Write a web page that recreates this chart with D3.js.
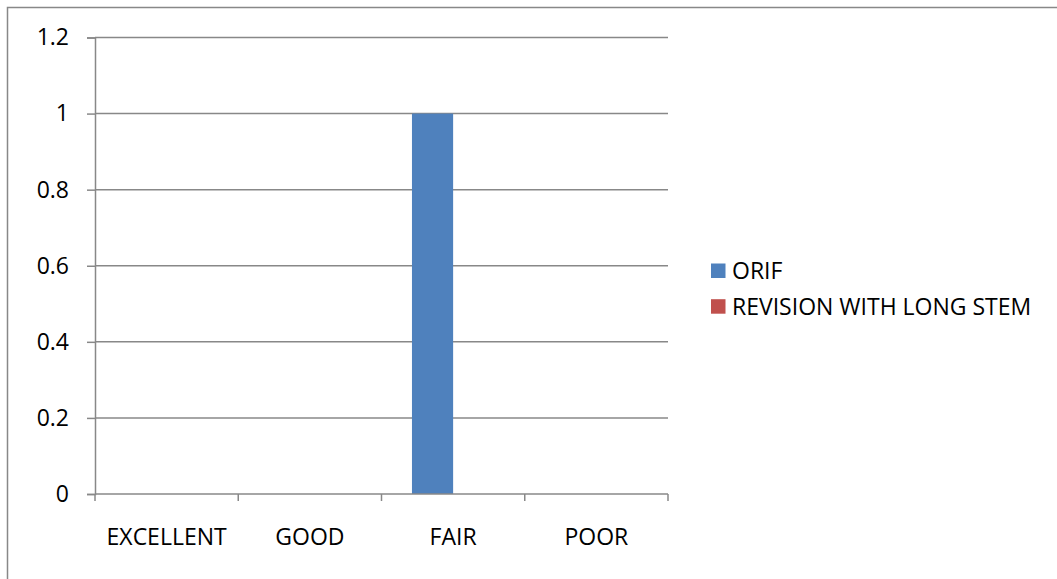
<!DOCTYPE html>
<html>
<head>
<meta charset="utf-8">
<script src="https://cdn.jsdelivr.net/npm/d3@7"></script>
<style>
  html, body { margin: 0; padding: 0; background: #fff; }
  svg text { font-family: "Open Sans", "Liberation Sans", sans-serif; fill: #000; }
</style>
</head>
<body>
<svg id="chart" width="1057" height="579"></svg>
<script>
// Outcome categories and the two treatment series
const categories = ["EXCELLENT", "GOOD", "FAIR", "POOR"];
const seriesNames = ["ORIF", "REVISION WITH LONG STEM"];
const orifValues = [0, 0, 1, 0];
const revisionValues = [0, 0, 0, 0];
const yTicks = [0, 0.2, 0.4, 0.6, 0.8, 1, 1.2];
const seriesColors = ["#4F81BD", "#C0504D"];

const svg = d3.select("#chart");
const W = 1057, H = 579;
const plot = { left: 95, right: 668, top: 37.5, bottom: 494 };
const gridColor = "#888888";
const fontSize = 23;

// outer chart frame
svg.append("rect")
  .attr("x", 7.5).attr("y", 7.5)
  .attr("width", W + 20).attr("height", H + 20)
  .attr("fill", "none").attr("stroke", gridColor).attr("stroke-width", 1.5);

const x0 = d3.scaleBand().domain(categories).range([plot.left, plot.right])
  .paddingInner(0).paddingOuter(0);
const x1 = d3.scaleBand().domain(seriesNames).range([0, x0.bandwidth()])
  .paddingInner(0).paddingOuter(0.74);
const y = d3.scaleLinear().domain([0, 1.2]).range([plot.bottom, plot.top]);

// horizontal gridlines
svg.append("g").selectAll("line").data(yTicks.filter(d => d > 0)).join("line")
  .attr("x1", plot.left).attr("x2", plot.right)
  .attr("y1", d => y(d)).attr("y2", d => y(d))
  .attr("stroke", gridColor).attr("stroke-width", 1.5);

// bars
const rows = categories.map((c, i) => ({ cat: c, vals: [orifValues[i], revisionValues[i]] }));
svg.append("g").selectAll("g").data(rows).join("g")
  .attr("transform", d => `translate(${x0(d.cat)},0)`)
  .selectAll("rect").data(d => d.vals.map((v, j) => ({ name: seriesNames[j], v, j })))
  .join("rect")
  .attr("x", d => x1(d.name)).attr("width", x1.bandwidth())
  .attr("y", d => y(d.v)).attr("height", d => y(0) - y(d.v))
  .attr("fill", d => seriesColors[d.j]);

// y axis
const yAxis = svg.append("g").attr("transform", `translate(${plot.left},0)`)
  .call(d3.axisLeft(y).tickValues(yTicks).tickSize(8).tickPadding(18)
    .tickFormat(d => d3.format("")(+d.toFixed(1))));
yAxis.select(".domain").attr("stroke", gridColor).attr("stroke-width", 1.5);
yAxis.selectAll(".tick line").attr("stroke", gridColor).attr("stroke-width", 1.5);
yAxis.selectAll("text").attr("font-size", fontSize).attr("font-family", null).attr("fill", "#000");

// x axis with boundary ticks between categories
const xAxis = svg.append("g").attr("transform", `translate(0,${plot.bottom})`);
xAxis.append("line").attr("x1", plot.left).attr("x2", plot.right)
  .attr("stroke", gridColor).attr("stroke-width", 1.5);
const boundaries = categories.map(c => x0(c)).concat([plot.right]);
xAxis.selectAll("line.tk").data(boundaries).join("line").attr("class", "tk")
  .attr("x1", d => d).attr("x2", d => d).attr("y1", 0).attr("y2", 7)
  .attr("stroke", gridColor).attr("stroke-width", 1.5);
xAxis.selectAll("text").data(categories).join("text")
  .attr("x", d => x0(d) + x0.bandwidth() / 2).attr("y", 43)
  .attr("dy", "0.35em").attr("text-anchor", "middle")
  .attr("font-size", fontSize).text(d => d);

// legend
const legend = svg.append("g").attr("transform", "translate(711,263.5)");
const item = legend.selectAll("g").data(seriesNames).join("g")
  .attr("transform", (d, i) => `translate(0,${i * 35.7})`);
item.append("rect").attr("width", 14.5).attr("height", 14.5)
  .attr("fill", (d, i) => seriesColors[i]);
item.append("text").attr("x", 21).attr("y", 7.5).attr("dy", "0.35em")
  .attr("font-size", fontSize).text(d => d);
</script>
</body>
</html>
